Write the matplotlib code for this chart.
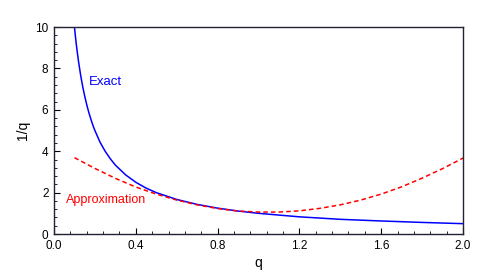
import numpy as np
import matplotlib.pyplot as plt
from matplotlib.ticker import MultipleLocator, FormatStrFormatter

plt.rcParams['font.family'] = ['Liberation Sans', 'DejaVu Sans']

# exact curve 1/q
q_exact = [0.1, 0.105, 0.11, 0.115, 0.12, 0.13, 0.14, 0.15, 0.16, 0.17, 0.18, 0.19,
           0.2, 0.225, 0.25, 0.275, 0.3, 0.35, 0.4, 0.45, 0.5, 0.6, 0.7, 0.8, 0.9,
           1.0, 1.2, 1.4, 1.6, 1.8, 2.0]
v_exact = [10.0, 9.52, 9.09, 8.70, 8.33, 7.69, 7.14, 6.67, 6.25, 5.88, 5.56, 5.26,
           5.0, 4.44, 4.0, 3.64, 3.33, 2.86, 2.5, 2.22, 2.0, 1.67, 1.43, 1.25, 1.11,
           1.0, 0.83, 0.71, 0.63, 0.56, 0.5]

# approximation (red dashed)
q_approx = [0.1, 0.2, 0.3, 0.4, 0.5, 0.6, 0.7, 0.8, 0.9, 1.0,
            1.1, 1.2, 1.3, 1.4, 1.5, 1.6, 1.7, 1.8, 1.9, 2.0]
v_approx = [3.69, 3.17, 2.69, 2.27, 1.93, 1.64, 1.41, 1.23, 1.11, 1.06,
            1.06, 1.12, 1.24, 1.41, 1.64, 1.93, 2.28, 2.70, 3.16, 3.67]

fig = plt.figure(figsize=(4.91, 2.71), dpi=100)
ax = fig.add_axes([0.110, 0.1365, 0.833, 0.7635])

ax.plot(q_exact, v_exact, color='blue', lw=1.1)
ax.plot(q_approx, v_approx, color='red', lw=1.1, ls=(0, (3, 2)))

ax.text(0.171, 7.34, 'Exact', color='blue', fontsize=9.5, va='center')
ax.text(0.057, 1.64, 'Approximation', color='red', fontsize=9, va='center')

ax.set_xlim(0, 2)
ax.set_ylim(0, 10)
ax.xaxis.set_major_locator(MultipleLocator(0.4))
ax.xaxis.set_minor_locator(MultipleLocator(0.08))
ax.yaxis.set_major_locator(MultipleLocator(2))
ax.yaxis.set_minor_locator(MultipleLocator(0.4))
ax.xaxis.set_major_formatter(FormatStrFormatter('%.1f'))
ax.yaxis.set_major_formatter(FormatStrFormatter('%d'))
ax.tick_params(direction='in', labelsize=8.5, length=4, width=0.8)
ax.tick_params(axis='x', pad=4)
ax.tick_params(axis='y', pad=4)
ax.tick_params(which='minor', direction='in', length=2, width=0.6)

ax.set_xlabel('q', fontsize=10, labelpad=3)
ax.set_ylabel('1/q', fontsize=10, labelpad=4)

for s in ax.spines.values():
    s.set_linewidth(1.0)
    s.set_color('#222233')

fig.savefig('out.png', dpi=100)
